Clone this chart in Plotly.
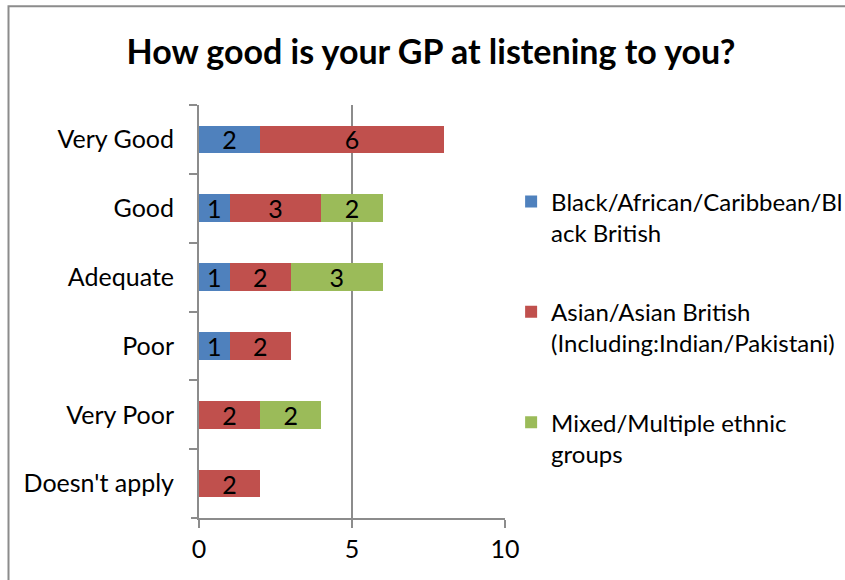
import plotly.graph_objects as go

categories = ["Very Good", "Good", "Adequate", "Poor", "Very Poor", "Doesn't apply"]
series_names = [
    "Black/African/Caribbean/Bl<br>ack British",
    "Asian/Asian British<br>(Including:Indian/Pakistani)",
    "Mixed/Multiple ethnic<br>groups",
]
black_vals = [2, 1, 1, 1, None, None]
asian_vals = [6, 3, 2, 2, 2, 2]
mixed_vals = [None, 2, 3, None, 2, None]
colors = ["#4F81BD", "#C0504D", "#9BBB59"]
x_ticks = [0, 5, 10]

FONT = "Lato"
FS = 25

fig = go.Figure()
for i, (name, vals) in enumerate(zip(series_names, [black_vals, asian_vals, mixed_vals])):
    fig.add_trace(go.Bar(
        y=categories, x=vals, name=name, orientation="h",
        marker=dict(color=colors[i], line=dict(width=0)),
        text=[str(v) if v else "" for v in vals],
        textposition="inside", insidetextanchor="middle",
        textangle=0, constraintext="none",
        textfont=dict(family=FONT, size=FS, color="black"),
        legendgroup=f"g{i}",
        hoverinfo="skip",
    ))

fig.update_layout(
    width=845, height=580,
    margin=dict(l=199, r=340, t=104.5, b=61.5, autoexpand=False),
    paper_bgcolor="white", plot_bgcolor="white",
    barmode="stack", bargap=0.6,
    title=dict(text="<b>How good is your GP at listening to you?</b>",
               x=431 / 845, xref="container", xanchor="center",
               y=1 - 52 / 580, yref="container", yanchor="middle",
               font=dict(family=FONT, size=34, color="black")),
    font=dict(family=FONT, size=FS, color="black"),
    showlegend=True,
    legend=dict(x=1.02, xanchor="left", y=0.82, yanchor="top",
                traceorder="grouped", tracegroupgap=45, valign="top",
                font=dict(family=FONT, size=24, color="black"),
                itemwidth=30, bgcolor="rgba(0,0,0,0)"),
    xaxis=dict(range=[0, 10], tickvals=x_ticks, showgrid=True,
               gridcolor="#8c8c8c", gridwidth=2,
               showline=True, linecolor="#8c8c8c", linewidth=2,
               ticks="outside", ticklen=8, tickcolor="#8c8c8c", tickwidth=2,
               tickfont=dict(family=FONT, size=FS, color="black"),
               zeroline=False, fixedrange=True),
    yaxis=dict(categoryorder="array", categoryarray=categories,
               autorange="reversed", showline=True, linecolor="#8c8c8c",
               linewidth=2, ticks="outside", ticklen=8, tickcolor="#8c8c8c",
               tickwidth=2, tickson="boundaries", showgrid=False,
               ticklabelstandoff=18,
               tickfont=dict(family=FONT, size=FS, color="black")),
    shapes=[
        dict(type="rect", xref="paper", yref="paper",
             x0=(8.5 - 199) / 306, x1=(870 - 199) / 306,
             y0=(518.5 - 600) / 414, y1=(518.5 - 5.5) / 414,
             line=dict(color="#8c8c8c", width=2), fillcolor="rgba(0,0,0,0)",
             layer="below"),
        dict(type="line", xref="paper", yref="paper",
             x0=-8 / 306, x1=0, y0=0, y1=0,
             line=dict(color="#8c8c8c", width=2)),
    ],
)

fig.write_html("out.html")
